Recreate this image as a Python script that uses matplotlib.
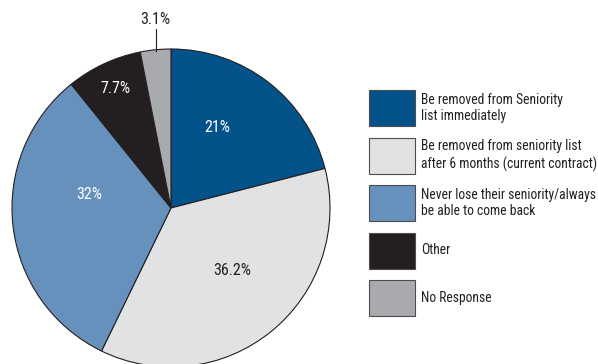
import numpy as np
import matplotlib
matplotlib.use("Agg")
import matplotlib.pyplot as plt
from matplotlib.patches import Rectangle
from matplotlib import font_manager

# Survey response shares (percent)
categories = [
    "Be removed from Seniority\nlist immediately",
    "Be removed from seniority list\nafter 6 months (current contract)",
    "Never lose their seniority/always\nbe able to come back",
    "Other",
    "No Response",
]
values = [21.0, 36.2, 32.0, 7.7, 3.1]
value_labels = ["21%", "36.2%", "32%", "7.7%", "3.1%"]

colors = ["#03528A", "#E1E2E4", "#6691BC", "#231F20", "#A8AAAD"]
label_colors = ["white", "#231F20", "white", "white", "#231F20"]
# radial position (fraction of radius) and angular nudge (deg) for each value label
label_radius = [0.58, 0.55, 0.52, 0.83, None]
label_nudge = [8, 5, -16, 0, 0]

available = {f.name for f in font_manager.fontManager.ttflist}
preferred = ["Roboto Condensed", "Archivo Narrow", "Liberation Sans Narrow", "DejaVu Sans"]
family = next(f for f in preferred if f in available or f == "DejaVu Sans")
plt.rcParams["font.family"] = [family, "DejaVu Sans"]

W, H = 598, 364
fig = plt.figure(figsize=(W / 100, H / 100), dpi=100)
fig.patch.set_facecolor("white")

# Pie axes: centre (171, 208) px, radius 159 px
cx, cy, r = 171, 208, 159
ax = fig.add_axes([(cx - r) / W, (H - cy - r) / H, 2 * r / W, 2 * r / H])

wedges, _ = ax.pie(
    values, colors=colors, startangle=90, counterclock=False, radius=1.0,
    wedgeprops=dict(edgecolor="#231F20", linewidth=0.8),
)
ax.set_xlim(-1, 1)
ax.set_ylim(-1, 1)
ax.axis("off")
for w in wedges:
    w.set_clip_on(False)

for i, w in enumerate(wedges):
    mid = np.deg2rad((w.theta1 + w.theta2) / 2 + label_nudge[i])
    if label_radius[i] is None:
        # small slice: label outside with a leader line
        x0, y0 = np.cos(mid), np.sin(mid)
        ax.plot([x0, x0], [y0 * 0.995, y0 * 1.13], color="#231F20",
                lw=0.8, clip_on=False)
        ax.text(x0, y0 * 1.19, value_labels[i], ha="center", va="center",
                fontsize=11.5, color=label_colors[i], clip_on=False)
    else:
        rr = label_radius[i]
        ax.text(rr * np.cos(mid), rr * np.sin(mid), value_labels[i], ha="center",
                va="center", fontsize=11.5, color=label_colors[i])

# Legend drawn in pixel coordinates
lax = fig.add_axes([0, 0, 1, 1])
lax.set_xlim(0, W)
lax.set_ylim(H, 0)
lax.axis("off")
box_x, box_w, box_h = 369, 46, 36
first_y, step = 90, 47.5
for i, (lab, c) in enumerate(zip(categories, colors)):
    y = first_y + i * step
    lax.add_patch(Rectangle((box_x, y), box_w, box_h, facecolor=c,
                            edgecolor="#4D4D4F", linewidth=0.8))
    lax.text(421, y + box_h / 2, lab, ha="left", va="center", fontsize=9.8,
             color="#231F20", linespacing=1.25)

fig.savefig("out.png", dpi=100, facecolor="white")
